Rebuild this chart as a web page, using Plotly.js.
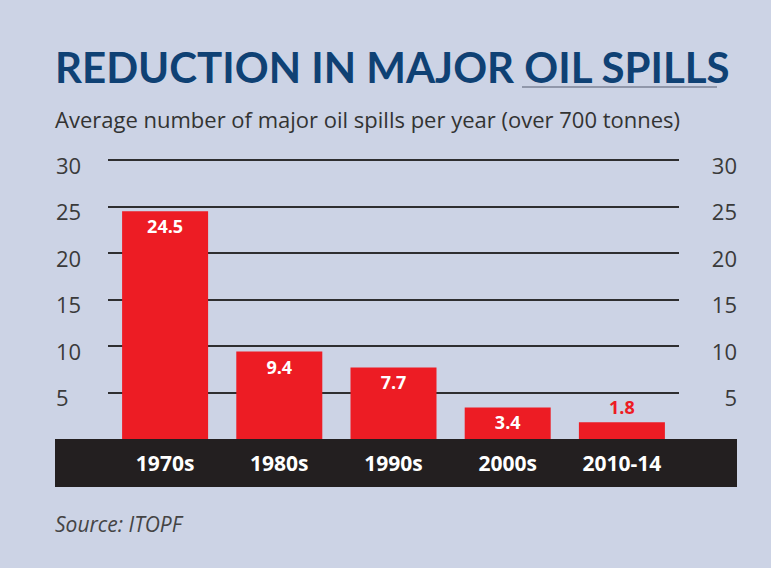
<!DOCTYPE html>
<html>
<head>
<meta charset="utf-8">
<script src="https://cdn.plot.ly/plotly-3.0.1.min.js"></script>
<style>html,body{margin:0;padding:0;background:#ccd3e5;}</style>
</head>
<body>
<div id="chart" style="width:771px;height:568px;"></div>
<script>
const decades = ['1970s', '1980s', '1990s', '2000s', '2010-14'];
const spillsPerYear = [24.5, 9.4, 7.7, 3.4, 1.8];
const yTicks = [5, 10, 15, 20, 25, 30];
const labelPositions = ['inside', 'inside', 'inside', 'inside', 'outside'];
const labelColors = ['#ffffff', '#ffffff', '#ffffff', '#ffffff', '#ed1c24'];

const W = 771, H = 568;
const L = 52, R = 31, T = 138, B = 129;
const pw = W - L - R, ph = H - T - B;
const pxPerUnit = 279 / 30;           // 0 → 30 spans 279 px
const px = v => (v - L) / pw;         // container x px → paper x
const py = v => (H - B - v) / ph;     // container y px → paper y

const bars = {
  type: 'bar',
  x: decades,
  y: spillsPerYear,
  marker: {color: '#ed1c24', line: {width: 0}},
  text: spillsPerYear.map(v => v.toFixed(1)),
  textposition: labelPositions,
  insidetextanchor: 'end',
  textfont: {family: 'Open Sans', size: 18, color: labelColors, weight: 'bold'},
  cliponaxis: false,
  hoverinfo: 'none'
};
// invisible companion so the right-hand axis is drawn
const rightAxisCarrier = {
  type: 'scatter', mode: 'none', x: decades, y: spillsPerYear,
  yaxis: 'y2', hoverinfo: 'skip', showlegend: false
};

const yCommon = {
  range: [0, ph / pxPerUnit],
  tickvals: yTicks,
  ticktext: yTicks.map(String),
  ticks: '',
  showline: false,
  zeroline: false,
  fixedrange: true,
  tickfont: {family: 'Open Sans', size: 22, color: '#3a3a3a'},
  ticklabelposition: 'inside',
  ticklabelshift: 6
};

const layout = {
  width: W, height: H,
  margin: {l: L, r: R, t: T, b: B, pad: 0},
  paper_bgcolor: '#ccd3e5',
  plot_bgcolor: 'rgba(0,0,0,0)',
  showlegend: false,
  bargap: 0.247,
  title: {
    text: 'REDUCTION IN MAJOR OIL SPILLS',
    font: {family: 'Lato', size: 42, color: '#0f4174', weight: 'bold'},
    xref: 'container', x: 55 / W, xanchor: 'left',
    yref: 'container', y: 1 - 68 / H, yanchor: 'middle'
  },
  xaxis: {
    domain: [px(108), px(679)],
    type: 'category',
    range: [-0.5, 4.5],
    showgrid: false, zeroline: false, showline: false, ticks: '',
    tickfont: {family: 'Open Sans', size: 21, color: '#ffffff', weight: 'bold'},
    ticklabelstandoff: 10,
    fixedrange: true
  },
  yaxis: Object.assign({}, yCommon, {
    anchor: 'free', position: 0, side: 'left',
    showgrid: true, gridcolor: '#2e2e30', gridwidth: 2
  }),
  yaxis2: Object.assign({}, yCommon, {
    anchor: 'free', position: 1, side: 'right', overlaying: 'y',
    showgrid: false
  }),
  shapes: [
    {type: 'rect', xref: 'paper', yref: 'paper', x0: px(55), x1: px(737), y0: py(487), y1: 0,
     fillcolor: '#231f20', line: {width: 0}, layer: 'below'},
    {type: 'line', xref: 'paper', yref: 'paper', x0: px(522), x1: px(717),
     y0: py(87), y1: py(87),
     line: {color: '#7d8396', width: 1.5}}
  ],
  annotations: [
    {text: 'Average number of major oil spills per year (over 700 tonnes)',
     xref: 'paper', yref: 'paper', x: px(53), xanchor: 'left',
     y: py(119), yanchor: 'middle', showarrow: false,
     font: {family: 'Open Sans', size: 22, color: '#333333'}},
    {text: '<i>Source: ITOPF</i>',
     xref: 'paper', yref: 'paper', x: px(53), xanchor: 'left',
     y: py(524), yanchor: 'middle', showarrow: false,
     font: {family: 'Open Sans', size: 21, color: '#444444'}}
  ]
};

Plotly.newPlot('chart', [bars, rightAxisCarrier], layout, {displayModeBar: false, staticPlot: true});
</script>
</body>
</html>
